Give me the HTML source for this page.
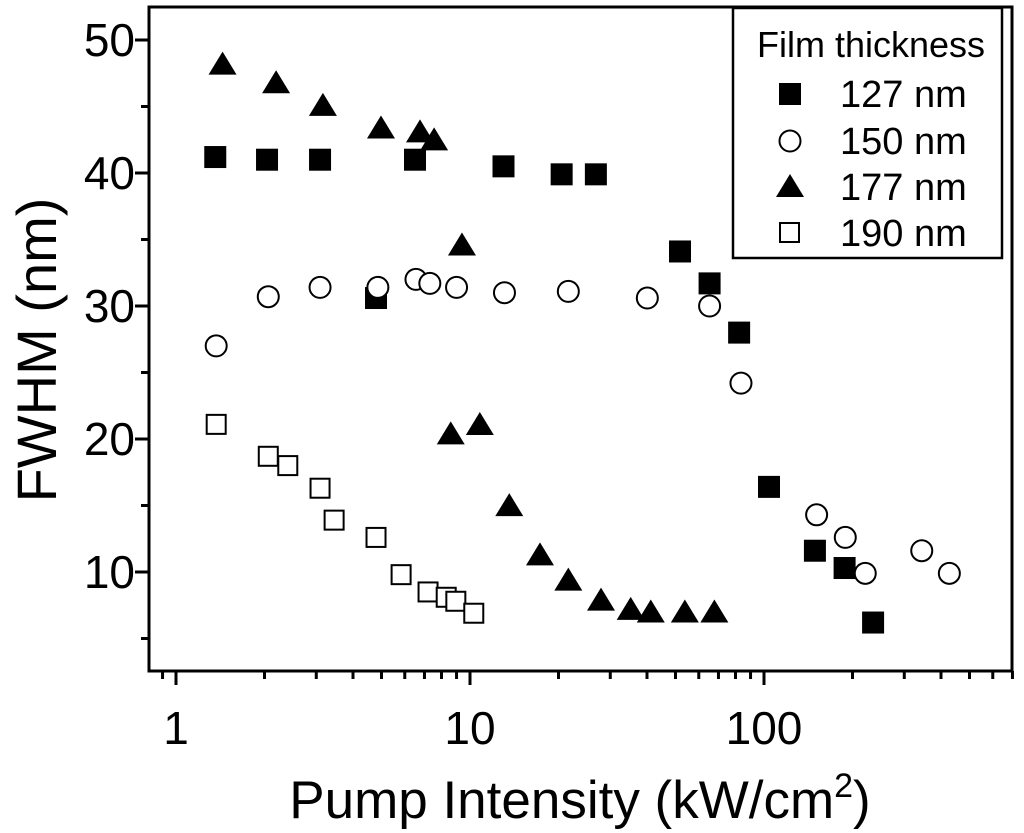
<!DOCTYPE html>
<html><head><meta charset="utf-8"><style>
body{margin:0;background:#fff}
svg{display:block;font-family:"Liberation Sans",Arial,sans-serif}
</style></head><body>
<svg id="chart" width="1024" height="833">
<rect width="1024" height="833" fill="#fff"/>
<g id="axes"></g><g id="marks"></g>
<g>
<rect x="733" y="8" width="269" height="250" fill="#fff" stroke="#000" stroke-width="2.5"/>
<text x="871" y="57" font-size="36" text-anchor="middle">Film thickness</text>
<rect x="779" y="83" width="22" height="22" fill="#000"/>
<text x="840" y="107" font-size="38">127 nm</text>
<circle cx="790" cy="141" r="10.5" fill="#fff" stroke="#000" stroke-width="2"/>
<text x="840" y="154" font-size="38">150 nm</text>
<polygon points="790,174 804,197 776,197" fill="#000"/>
<text x="840" y="200" font-size="38">177 nm</text>
<rect x="780" y="223" width="19" height="19" fill="#fff" stroke="#000" stroke-width="2"/>
<text x="840" y="246" font-size="38">190 nm</text>
</g>
<text x="580" y="818" font-size="53" text-anchor="middle">Pump Intensity (kW/cm<tspan dy="-21" font-size="34">2</tspan><tspan dy="21">)</tspan></text>
<text transform="translate(56,350) rotate(-90)" font-size="56" text-anchor="middle">FWHM (nm)</text>
</svg>
<script>
const xs127=[1.36,2.04,3.09,4.79,6.5,13.0,20.5,26.8,51.8,65.3,82.3,104,149,188,235];
const ys127=[41.2,41.0,41.0,30.6,41.0,40.5,39.9,39.9,34.1,31.7,28.0,16.4,11.6,10.3,6.2];
const xs150=[1.37,2.06,3.09,4.86,6.55,7.3,9.0,13.1,21.6,40.1,65.3,83.5,151,189,221,344,427];
const ys150=[27.0,30.7,31.4,31.4,32.0,31.7,31.4,31.0,31.1,30.6,30.0,24.2,14.3,12.6,9.9,11.6,9.9];
const xs177=[1.44,2.19,3.16,4.98,6.76,7.55,9.39,8.6,10.8,13.6,17.3,21.6,27.9,35.2,41.2,53.8,67.8];
const ys177=[48.0,46.6,44.9,43.2,42.9,42.3,34.4,20.2,20.9,14.8,11.1,9.2,7.7,7.0,6.8,6.8,6.8];
const xs190=[1.37,2.06,2.40,3.09,3.45,4.79,5.83,7.2,8.3,8.95,10.3];
const ys190=[21.1,18.7,18.0,16.3,13.9,12.6,9.8,8.5,8.1,7.8,6.9];
const xTicks=[1,10,100];
const xTickLabels=["1","10","100"];
const yTicks=[10,20,30,40,50];
const yTickLabels=["10","20","30","40","50"];

const NS="http://www.w3.org/2000/svg";
const L=149,R=1012,T=7,B=671;
const X=v=>176+294*Math.log10(v);
const Y=v=>40+(50-v)*13.3;
function mk(tag,attrs,parent){const e=document.createElementNS(NS,tag);for(const k in attrs)e.setAttribute(k,attrs[k]);parent.appendChild(e);return e;}
const ax=document.getElementById('axes'),mg=document.getElementById('marks');
const fr=mk('rect',{x:L,y:T,width:R-L,height:B-T,fill:'none',stroke:'#000','stroke-width':3},ax);


for(let d=0.1;d<=1000;d*=10){for(let m=1;m<10;m++){const v=d*m;const x=X(v);if(x<L-0.5||x>R+0.5)continue;const maj=m===1;
const t=mk('line',{x1:x,x2:x,y1:B,y2:B+(maj?14:8),stroke:'#000','stroke-width':3},ax);

}}
xTicks.forEach((v,i)=>{const t=mk('text',{x:X(v),y:B+73,'font-size':46,'text-anchor':'middle'},ax);t.textContent=xTickLabels[i];

});
for(let v=5;v<=50;v+=5){const y=Y(v);const maj=v%10===0;
const t=mk('line',{x1:L,x2:L-(maj?14:8),y1:y,y2:y,stroke:'#000','stroke-width':3},ax);

}
yTicks.forEach((v,i)=>{const t=mk('text',{x:L-14,y:Y(v)+16,'font-size':46,'text-anchor':'end'},ax);t.textContent=yTickLabels[i];

});
xs127.forEach((v,i)=>{const e=mk('rect',{x:X(v)-11,y:Y(ys127[i])-11,width:22,height:22,fill:'#000'},mg);

});
xs150.forEach((v,i)=>{const e=mk('circle',{cx:X(v),cy:Y(ys150[i]),r:10.5,fill:'#fff',stroke:'#000','stroke-width':2},mg);

});
xs177.forEach((v,i)=>{const x=X(v),y=Y(ys177[i]);const e=mk('polygon',{points:`${x},${y-15} ${x+14},${y+8} ${x-14},${y+8}`,fill:'#000'},mg);

});
xs190.forEach((v,i)=>{const e=mk('rect',{x:X(v)-9.5,y:Y(ys190[i])-9.5,width:19,height:19,fill:'#fff',stroke:'#000','stroke-width':2},mg);

});
</script>
</body></html>
